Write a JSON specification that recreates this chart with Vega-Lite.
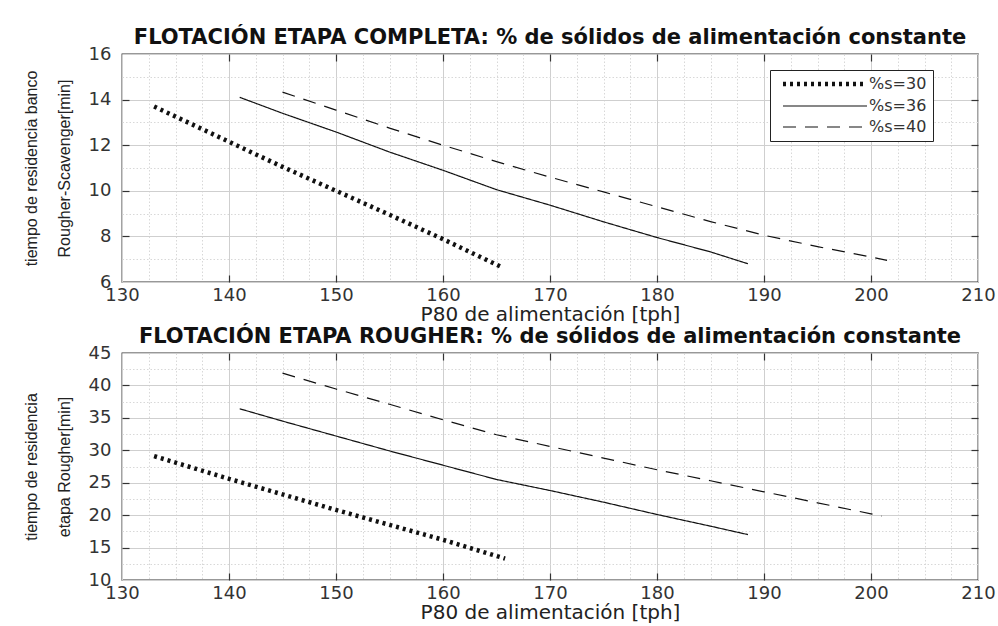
{
  "$schema": "https://vega.github.io/schema/vega-lite/v6.json",
  "background": "white",
  "padding": {"left": 22, "top": 26, "right": 10, "bottom": 2},
  "spacing": 0,
  "datasets": {
    "completa": [
      {"s": "%s=30", "p80": 133, "t": 13.7},
      {"s": "%s=30", "p80": 140, "t": 12.15},
      {"s": "%s=30", "p80": 145, "t": 11.05},
      {"s": "%s=30", "p80": 150, "t": 10.0},
      {"s": "%s=30", "p80": 155, "t": 8.95},
      {"s": "%s=30", "p80": 160, "t": 7.88},
      {"s": "%s=30", "p80": 165.5, "t": 6.65},
      {"s": "%s=36", "p80": 141, "t": 14.1},
      {"s": "%s=36", "p80": 145, "t": 13.4},
      {"s": "%s=36", "p80": 150, "t": 12.58},
      {"s": "%s=36", "p80": 155, "t": 11.7},
      {"s": "%s=36", "p80": 160, "t": 10.9},
      {"s": "%s=36", "p80": 165, "t": 10.05},
      {"s": "%s=36", "p80": 170, "t": 9.37},
      {"s": "%s=36", "p80": 175, "t": 8.64},
      {"s": "%s=36", "p80": 180, "t": 7.95},
      {"s": "%s=36", "p80": 185, "t": 7.32},
      {"s": "%s=36", "p80": 188.5, "t": 6.8},
      {"s": "%s=40", "p80": 145, "t": 14.33},
      {"s": "%s=40", "p80": 150, "t": 13.54},
      {"s": "%s=40", "p80": 155, "t": 12.75},
      {"s": "%s=40", "p80": 160, "t": 12.0},
      {"s": "%s=40", "p80": 165, "t": 11.28},
      {"s": "%s=40", "p80": 170, "t": 10.6},
      {"s": "%s=40", "p80": 175, "t": 9.95},
      {"s": "%s=40", "p80": 180, "t": 9.3},
      {"s": "%s=40", "p80": 185, "t": 8.65},
      {"s": "%s=40", "p80": 190, "t": 8.05},
      {"s": "%s=40", "p80": 195, "t": 7.55},
      {"s": "%s=40", "p80": 200, "t": 7.1},
      {"s": "%s=40", "p80": 201.5, "t": 6.95}
    ],
    "rougher": [
      {"s": "%s=30", "p80": 133, "t": 29.1},
      {"s": "%s=30", "p80": 140, "t": 25.6},
      {"s": "%s=30", "p80": 145, "t": 23.2},
      {"s": "%s=30", "p80": 150, "t": 20.8},
      {"s": "%s=30", "p80": 155, "t": 18.5},
      {"s": "%s=30", "p80": 160, "t": 16.2},
      {"s": "%s=30", "p80": 165.8, "t": 13.3},
      {"s": "%s=36", "p80": 141, "t": 36.4},
      {"s": "%s=36", "p80": 145, "t": 34.5},
      {"s": "%s=36", "p80": 150, "t": 32.2},
      {"s": "%s=36", "p80": 155, "t": 29.9},
      {"s": "%s=36", "p80": 160, "t": 27.7},
      {"s": "%s=36", "p80": 165, "t": 25.5},
      {"s": "%s=36", "p80": 170, "t": 23.8},
      {"s": "%s=36", "p80": 175, "t": 22.0},
      {"s": "%s=36", "p80": 180, "t": 20.1},
      {"s": "%s=36", "p80": 185, "t": 18.3},
      {"s": "%s=36", "p80": 188.5, "t": 17.0},
      {"s": "%s=40", "p80": 145, "t": 41.9},
      {"s": "%s=40", "p80": 150, "t": 39.45},
      {"s": "%s=40", "p80": 155, "t": 37.1},
      {"s": "%s=40", "p80": 160, "t": 34.7},
      {"s": "%s=40", "p80": 165, "t": 32.4},
      {"s": "%s=40", "p80": 170, "t": 30.6},
      {"s": "%s=40", "p80": 175, "t": 28.8},
      {"s": "%s=40", "p80": 180, "t": 27.0},
      {"s": "%s=40", "p80": 185, "t": 25.3},
      {"s": "%s=40", "p80": 190, "t": 23.6},
      {"s": "%s=40", "p80": 195, "t": 21.9},
      {"s": "%s=40", "p80": 200, "t": 20.2},
      {"s": "%s=40", "p80": 201, "t": 19.85}
    ]
  },
  "config": {
    "view": {"stroke": "#333", "strokeWidth": 1.3},
    "title": {"font": "DejaVu Sans", "fontSize": 21, "fontWeight": "bold", "color": "#111", "offset": -3, "anchor": "middle"},
    "axis": {
      "labelFont": "DejaVu Sans", "labelFontSize": 18, "labelColor": "#333",
      "titleFont": "DejaVu Sans", "titleFontSize": 20, "titleFontWeight": "normal", "titleColor": "#222",
      "domain": false, "tickColor": "#333", "tickWidth": 1.2
    },
    "legend": {
      "labelFont": "DejaVu Sans", "labelFontSize": 16, "labelColor": "#333",
      "strokeColor": "#222", "fillColor": "white", "padding": 6, "rowPadding": 5,
      "symbolType": "M-0.2,0H16.6", "symbolSize": 100, "labelOffset": 77,
      "symbolStrokeColor": "#111",
      "titleOrient": "right", "titlePadding": 0, "titleFont": "DejaVu Sans", "titleFontSize": 16, "titleColor": "white"
    },
    "line": {"strokeCap": "butt"}
  },
  "vconcat": [
    {
      "width": 856,
      "height": 228,
      "title": {"text": "FLOTACIÓN ETAPA COMPLETA: % de sólidos de alimentación constante"},
      "data": {"name": "completa"},
      "resolve": {"axis": {"x": "independent", "y": "independent"}},
      "layer": [
        {
          "mark": {"type": "line", "color": "#111"},
          "encoding": {
            "x": {"field": "p80", "type": "quantitative",
              "scale": {"domain": [130, 210], "nice": false},
              "axis": {"orient": "bottom", "title": "P80 de alimentación [tph]",
                "values": [130,132.5,135,137.5,140,142.5,145,147.5,150,152.5,155,157.5,160,162.5,165,167.5,170,172.5,175,177.5,180,182.5,185,187.5,190,192.5,195,197.5,200,202.5,205,207.5,210],
                "format": "d",
                "labelExpr": "datum.value % 10 === 0 ? datum.label : ''",
                "grid": true,
                "gridColor": {"condition": {"test": "datum.value % 10 === 0", "value": "#cfcfcf"}, "value": "#d8d8d8"},
                "gridDash": {"condition": {"test": "datum.value % 10 === 0", "value": []}, "value": [1.5, 2]},
                "tickOpacity": {"condition": {"test": "datum.value % 10 === 0 && datum.value > 130 && datum.value < 210", "value": 1}, "value": 0},
                "tickSize": -7, "labelPadding": 11, "titlePadding": 0, "labelFlush": false}},
            "y": {"field": "t", "type": "quantitative",
              "scale": {"domain": [6, 16], "nice": false},
              "axis": {"orient": "left", "title": ["tiempo de residencia banco", "Rougher-Scavenger[min]"],
                "titleFont": "Liberation Sans", "titleFontSize": 16, "titleLineHeight": 33,
                "values": [6,6.5,7,7.5,8,8.5,9,9.5,10,10.5,11,11.5,12,12.5,13,13.5,14,14.5,15,15.5,16],
                "format": "d",
                "labelExpr": "datum.value % 2 === 0 ? datum.label : ''",
                "grid": true,
                "gridColor": {"condition": {"test": "datum.value % 2 === 0", "value": "#cfcfcf"}, "value": "#d8d8d8"},
                "gridDash": {"condition": {"test": "datum.value % 2 === 0", "value": []}, "value": [1.5, 2]},
                "tickOpacity": {"condition": {"test": "datum.value % 2 === 0 && datum.value > 6 && datum.value < 16", "value": 1}, "value": 0},
                "tickSize": -7, "labelPadding": 18, "titlePadding": 16, "labelFlush": false}},
            "strokeDash": {"field": "s", "type": "nominal",
              "scale": {"domain": ["%s=30", "%s=36", "%s=40"], "range": [[3, 4], [1, 0], [13, 9]]},
              "legend": {"title": "\u00a0\u00a0\u00a0\u00a0", "orient": "none", "legendX": 648, "legendY": 16}},
            "strokeWidth": {"field": "s", "type": "nominal",
              "scale": {"type": "ordinal", "domain": ["%s=30", "%s=36", "%s=40"], "range": [4.5, 1.2, 1.2]},
              "legend": {"title": "\u00a0\u00a0\u00a0\u00a0", "orient": "none", "legendX": 648, "legendY": 16}}
          }
        },
        {
          "mark": {"type": "line", "opacity": 0},
          "encoding": {
            "x": {"field": "p80", "type": "quantitative",
              "axis": {"orient": "top", "title": null, "labels": false, "grid": false, "values": [140,150,160,170,180,190,200], "tickSize": -7}},
            "y": {"field": "t", "type": "quantitative",
              "axis": {"orient": "right", "title": null, "labels": false, "grid": false, "values": [8,10,12,14], "tickSize": -7}},
            "detail": {"field": "s"}
          }
        }
      ]
    },
    {
      "width": 856,
      "height": 227,
      "title": {"text": "FLOTACIÓN ETAPA ROUGHER: % de sólidos de alimentación constante"},
      "data": {"name": "rougher"},
      "resolve": {"axis": {"x": "independent", "y": "independent"}},
      "layer": [
        {
          "mark": {"type": "line", "color": "#111"},
          "encoding": {
            "x": {"field": "p80", "type": "quantitative",
              "scale": {"domain": [130, 210], "nice": false},
              "axis": {"orient": "bottom", "title": "P80 de alimentación [tph]",
                "values": [130,132.5,135,137.5,140,142.5,145,147.5,150,152.5,155,157.5,160,162.5,165,167.5,170,172.5,175,177.5,180,182.5,185,187.5,190,192.5,195,197.5,200,202.5,205,207.5,210],
                "format": "d",
                "labelExpr": "datum.value % 10 === 0 ? datum.label : ''",
                "grid": true,
                "gridColor": {"condition": {"test": "datum.value % 10 === 0", "value": "#cfcfcf"}, "value": "#d8d8d8"},
                "gridDash": {"condition": {"test": "datum.value % 10 === 0", "value": []}, "value": [1.5, 2]},
                "tickOpacity": {"condition": {"test": "datum.value % 10 === 0 && datum.value > 130 && datum.value < 210", "value": 1}, "value": 0},
                "tickSize": -7, "labelPadding": 11, "titlePadding": 0, "labelFlush": false}},
            "y": {"field": "t", "type": "quantitative",
              "scale": {"domain": [10, 45], "nice": false},
              "axis": {"orient": "left", "title": ["tiempo de residencia", "etapa Rougher[min]"],
                "titleFont": "Liberation Sans", "titleFontSize": 16, "titleLineHeight": 33,
                "values": [10,12.5,15,17.5,20,22.5,25,27.5,30,32.5,35,37.5,40,42.5,45],
                "format": "d",
                "labelExpr": "datum.value % 5 === 0 ? datum.label : ''",
                "grid": true,
                "gridColor": {"condition": {"test": "datum.value % 5 === 0", "value": "#cfcfcf"}, "value": "#d8d8d8"},
                "gridDash": {"condition": {"test": "datum.value % 5 === 0", "value": []}, "value": [1.5, 2]},
                "tickOpacity": {"condition": {"test": "datum.value % 5 === 0 && datum.value > 10 && datum.value < 45", "value": 1}, "value": 0},
                "tickSize": -7, "labelPadding": 18, "titlePadding": 16, "labelFlush": false}},
            "strokeDash": {"field": "s", "type": "nominal",
              "scale": {"domain": ["%s=30", "%s=36", "%s=40"], "range": [[3, 4], [1, 0], [13, 9]]},
              "legend": {"title": "\u00a0\u00a0\u00a0\u00a0", "orient": "none", "legendX": 639, "legendY": 12}},
            "strokeWidth": {"field": "s", "type": "nominal",
              "scale": {"type": "ordinal", "domain": ["%s=30", "%s=36", "%s=40"], "range": [4.5, 1.2, 1.2]},
              "legend": {"title": "\u00a0\u00a0\u00a0\u00a0", "orient": "none", "legendX": 639, "legendY": 12}}
          }
        },
        {
          "mark": {"type": "line", "opacity": 0},
          "encoding": {
            "x": {"field": "p80", "type": "quantitative",
              "axis": {"orient": "top", "title": null, "labels": false, "grid": false, "values": [140,150,160,170,180,190,200], "tickSize": -7}},
            "y": {"field": "t", "type": "quantitative",
              "axis": {"orient": "right", "title": null, "labels": false, "grid": false, "values": [15,20,25,30,35,40], "tickSize": -7}},
            "detail": {"field": "s"}
          }
        }
      ]
    }
  ]
}
